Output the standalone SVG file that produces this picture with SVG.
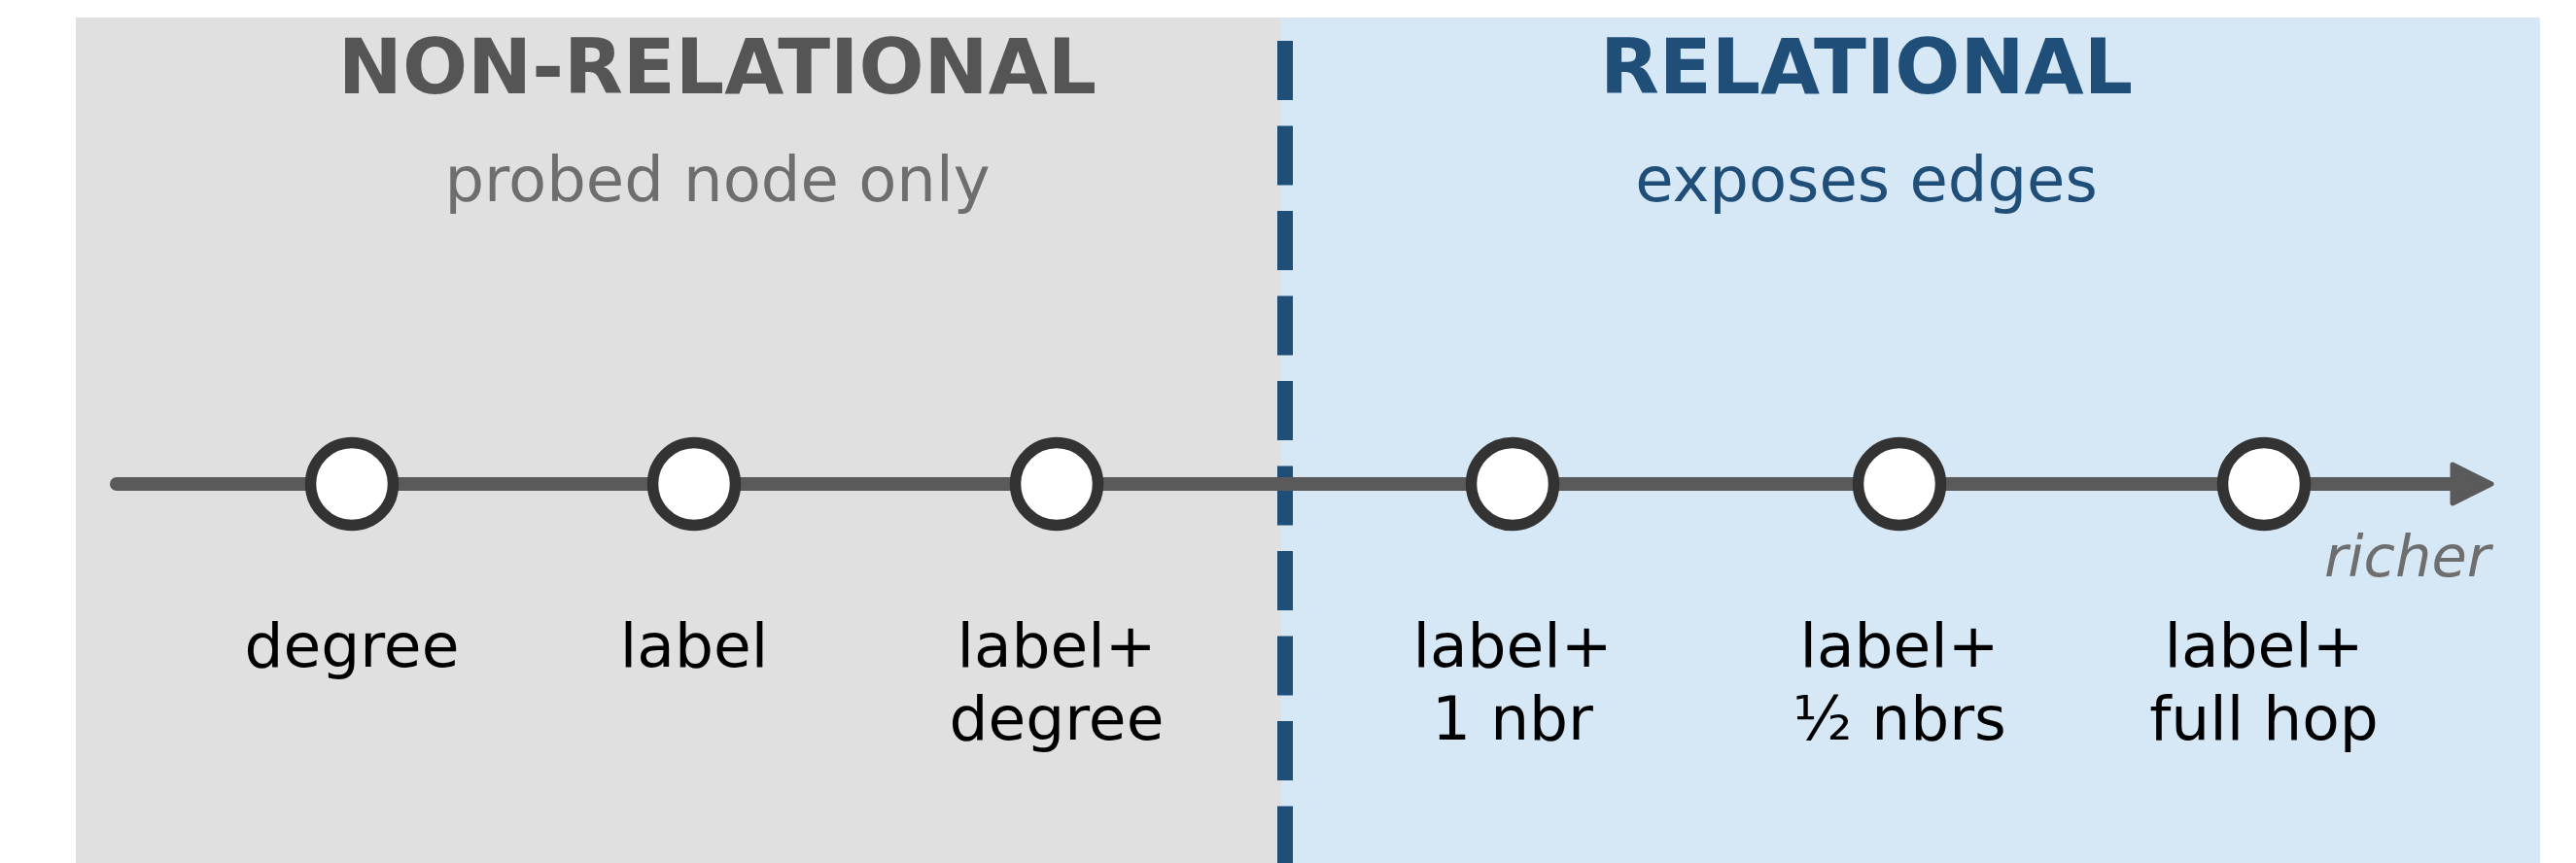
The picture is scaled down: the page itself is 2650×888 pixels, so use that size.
<svg xmlns="http://www.w3.org/2000/svg" width="2650" height="888" viewBox="0 0 2650 888">
  <style>
    text { font-family: "DejaVu Sans", "Liberation Sans", sans-serif; }
    .title { font-size: 79px; font-weight: bold; text-anchor: middle; }
    .sub { font-size: 64px; text-anchor: middle; }
    .lbl { font-size: 63px; text-anchor: middle; fill: #000000; }
    .node { fill: #ffffff; stroke: #333333; stroke-width: 11.5; }
    .axis { stroke: #5a5a5a; stroke-width: 14; stroke-linecap: round; fill: none; }
  </style>
  <defs>
    <marker id="head" markerUnits="userSpaceOnUse" viewBox="0 0 46 48" refX="10" refY="24" markerWidth="46" markerHeight="48" orient="auto">
      <path d="M3,4 L43,24 L3,44 Z" fill="#5a5a5a" stroke="#5a5a5a" stroke-width="5" stroke-linejoin="round"/>
    </marker>
  </defs>
  <rect x="0" y="0" width="2650" height="888" fill="#ffffff"/>
  <g id="panel-nonrelational">
    <rect x="78" y="18" width="1240" height="870" fill="#e0e0e0"/>
    <text class="title" x="738" y="96" fill="#555555">NON-RELATIONAL</text>
    <text class="sub" x="738" y="207" fill="#6e6e6e">probed node only</text>
  </g>
  <g id="panel-relational">
    <rect x="1318" y="18" width="1295" height="870" fill="#d6e7f5"/>
    <text class="title" x="1920" y="96" fill="#1f4e79">RELATIONAL</text>
    <text class="sub" x="1920" y="207" fill="#1f4e79">exposes edges</text>
  </g>
  <g id="connectors">
    <line id="divider" x1="1322" y1="42" x2="1322" y2="888" stroke="#1f4e79" stroke-width="16" stroke-dasharray="61 26.5"/>
    <line id="axis" class="axis" x1="120" y1="498" x2="2530" y2="498" marker-end="url(#head)"/>
    <text x="2562" y="593" font-size="59" font-style="italic" fill="#6e6e6e" text-anchor="end">richer</text>
  </g>
  <g id="node-degree">
    <circle class="node" cx="362" cy="498" r="42.5"/>
    <text class="lbl" x="362" y="686">degree</text>
  </g>
  <g id="node-label">
    <circle class="node" cx="714" cy="498" r="42.5"/>
    <text class="lbl" x="714" y="686">label</text>
  </g>
  <g id="node-label-degree">
    <circle class="node" cx="1087" cy="498" r="42.5"/>
    <text class="lbl" x="1087" y="686">label+</text>
    <text class="lbl" x="1087" y="761">degree</text>
  </g>
  <g id="node-label-1nbr">
    <circle class="node" cx="1556" cy="498" r="42.5"/>
    <text class="lbl" x="1556" y="686">label+</text>
    <text class="lbl" x="1556" y="761">1 nbr</text>
  </g>
  <g id="node-label-halfnbrs">
    <circle class="node" cx="1954" cy="498" r="42.5"/>
    <text class="lbl" x="1954" y="686">label+</text>
    <text class="lbl" x="1954" y="761">½ nbrs</text>
  </g>
  <g id="node-label-fullhop">
    <circle class="node" cx="2329" cy="498" r="42.5"/>
    <text class="lbl" x="2329" y="686">label+</text>
    <text class="lbl" x="2329" y="761">full hop</text>
  </g>
</svg>
